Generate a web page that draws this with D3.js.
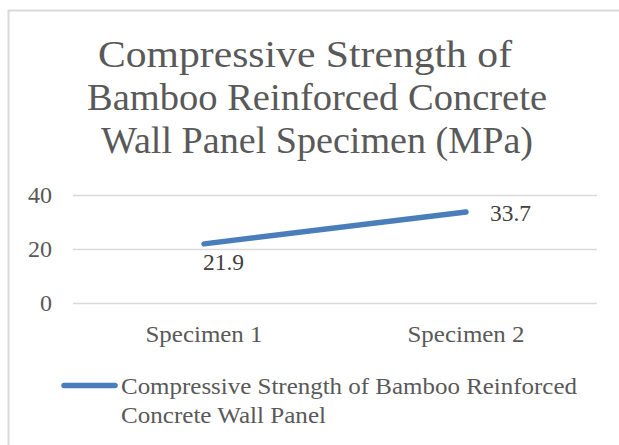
<!DOCTYPE html>
<html>
<head>
<meta charset="utf-8">
<script src="https://cdn.jsdelivr.net/npm/d3@7"></script>
<style>
  body { margin: 0; background: #fff; }
  .domain { display: none; }
</style>
</head>
<body>
<div id="canvas"></div>
<script>
const categories = ["Specimen 1", "Specimen 2"];
const values = [21.9, 33.7];
const yTicks = [0, 20, 40];
const titleLines = ["Compressive Strength of", "Bamboo Reinforced Concrete", "Wall Panel Specimen (MPa)"];
const legendLines = ["Compressive Strength of Bamboo Reinforced", "Concrete Wall Panel"];

const FONT = "'Liberation Serif', 'DejaVu Serif', serif";
const width = 619;
const height = 445;
const margin = { top: 195, left: 73, bottom: 142, right: 22 };
const iwidth = width - margin.left - margin.right;
const iheight = height - margin.top - margin.bottom;

const svg = d3.select("#canvas").append("svg")
    .attr("width", width)
    .attr("height", height)
    .style("font-family", FONT);

// chart area border (only top and left show in the crop)
svg.append("path")
    .attr("d", `M8.5,${height} V10.5 H${width}`)
    .attr("fill", "none")
    .attr("stroke", "#d9d9d9")
    .attr("stroke-width", 2);

// title, widths matched to the wider original face
const titleCx = [305, 317, 317];
const titleW = [414, 460, 432];
svg.append("g").selectAll("text").data(titleLines).enter().append("text")
    .attr("x", (d, i) => titleCx[i])
    .attr("y", (d, i) => 67 + i * 43)
    .attr("text-anchor", "middle")
    .attr("textLength", (d, i) => titleW[i])
    .attr("lengthAdjust", "spacingAndGlyphs")
    .style("font-family", FONT)
    .style("font-size", "37px")
    .style("fill", "#595959")
    .text(d => d);

const g = svg.append("g").attr("transform", `translate(${margin.left},${margin.top})`);

const x = d3.scaleBand()
    .domain(categories)
    .range([0, iwidth]);

const y = d3.scaleLinear()
    .domain([0, 40])
    .range([iheight, 0]);

// gridlines + y labels
const yAxis = g.append("g")
    .call(d3.axisLeft(y).tickValues(yTicks).tickSize(-iwidth).tickPadding(21));
yAxis.selectAll("line").attr("stroke", "#d9d9d9").attr("stroke-width", 1.5);
yAxis.selectAll("text")
    .style("font-size", "24px")
    .style("font-family", FONT)
    .attr("fill", "#595959");

// x labels
const xAxis = g.append("g")
    .attr("transform", `translate(0,${iheight})`)
    .call(d3.axisBottom(x).tickSize(0).tickPadding(22));
xAxis.selectAll("text")
    .style("font-size", "24px")
    .style("font-family", FONT)
    .attr("textLength", 117)
    .attr("lengthAdjust", "spacingAndGlyphs")
    .attr("fill", "#595959");

const pts = categories.map((c, i) => ({ cat: c, value: values[i] }));
const cx = d => x(d.cat) + x.bandwidth() / 2;

const line = d3.line()
    .x(cx)
    .y(d => y(d.value));

g.append("path")
    .datum(pts)
    .attr("d", line)
    .attr("fill", "none")
    .attr("stroke", "#4a7ebb")
    .attr("stroke-width", 5.5)
    .attr("stroke-linecap", "round");

// data labels: first below, second to the right
const labelDx = [-1, 24];
const labelDy = [26, 9];
g.selectAll(".dlabel").data(pts).enter().append("text")
    .attr("class", "dlabel")
    .attr("x", (d, i) => cx(d) + labelDx[i])
    .attr("y", (d, i) => y(d.value) + labelDy[i])
    .attr("textLength", 41)
    .attr("lengthAdjust", "spacingAndGlyphs")
    .style("font-family", FONT)
    .style("font-size", "24px")
    .style("fill", "#404040")
    .text(d => d.value);

// legend
const legend = svg.append("g");
legend.append("line")
    .attr("x1", 64).attr("x2", 115)
    .attr("y1", 385.5).attr("y2", 385.5)
    .attr("stroke", "#4a7ebb")
    .attr("stroke-width", 5.5)
    .attr("stroke-linecap", "round");
const legendW = [456, 205];
legend.selectAll("text").data(legendLines).enter().append("text")
    .attr("x", 121)
    .attr("y", (d, i) => 394 + i * 28.5)
    .attr("textLength", (d, i) => legendW[i])
    .attr("lengthAdjust", "spacingAndGlyphs")
    .style("font-family", FONT)
    .style("font-size", "24px")
    .style("fill", "#595959")
    .text(d => d);
</script>
</body>
</html>
